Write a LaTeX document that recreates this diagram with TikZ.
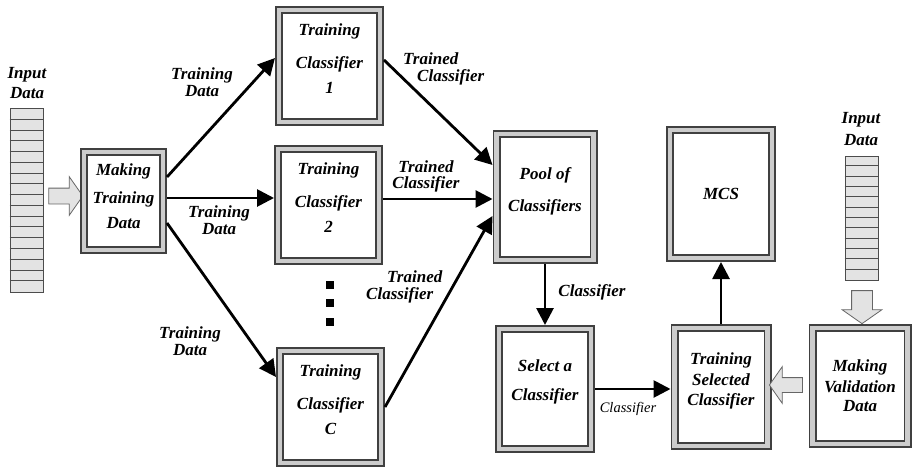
\documentclass[tikz,border=0pt]{standalone}
\usepackage{fontspec}
\setmainfont{Liberation Serif}
\usetikzlibrary{arrows.meta,shapes.arrows}
\newcommand{\lab}{\fontsize{17}{17}\selectfont\bfseries\itshape}
\tikzset{
  frame/.style={draw=black!75, line width=1.6pt, double=gray!40, double distance=4.8pt,
    fill=white, outer sep=4pt, inner sep=2pt, align=center, font=\lab},
  datacol/.style={draw=black!70, line width=1pt, fill=gray!22, inner sep=0pt},
  blockarrow/.style={single arrow, draw=black!60, line width=0.8pt, fill=gray!22,
    inner xsep=0pt, inner ysep=7.5pt, single arrow head extend=11.5pt,
    single arrow tip angle=110},
  lbl/.style={font=\lab, align=center, inner sep=0pt},
  flow/.style={line width=2.8pt, -{Triangle[length=17pt,width=17pt]}}
}
\begin{document}
\begin{tikzpicture}[x=1pt,y=-1pt]
\useasboundingbox (0,0) rectangle (912,468);
\node[datacol, minimum width=33pt, minimum height=183pt] (inL) at (26.5,200.5) {};
\foreach \i in {1,...,16}
  \draw[black!70, line width=0.8pt] ([yshift={-\i*10.76pt}]inL.north west) -- ([yshift={-\i*10.76pt}]inL.north east);
\node[lbl] (inLt) at (27,83) {Input\\[3pt]Data};
\node[blockarrow, minimum height=34pt] (arrL) at (63,196) {};
\node[frame, minimum width=79pt, minimum height=98pt] (make) at (123.5,201) {Making\\[11pt]Training\\[8pt]Data\\[-7pt]\mbox{}};
\node[frame, minimum width=101pt, minimum height=112pt] (tc1) at (329.5,66) {Training\\[16pt]Classifier\\[8pt]1\\[-3pt]\mbox{}};
\node[frame, minimum width=101pt, minimum height=112pt] (tc2) at (328.5,205) {Training\\[16pt]Classifier\\[8pt]2\\[-3pt]\mbox{}};
\node[frame, minimum width=101pt, minimum height=112pt] (tcC) at (330.5,407) {Training\\[16pt]Classifier\\[8pt]C\\[-3pt]\mbox{}};
\foreach \y in {285,303,322}
  \node[fill=black, minimum size=8pt, inner sep=0pt] at (330,\y) {};
\node[frame, minimum width=97pt, minimum height=126pt] (pool) at (545,197) {Pool of\\[15pt]Classifiers\\[-3pt]\mbox{}};
\node[frame, minimum width=92pt, minimum height=120pt] (select) at (545,389) {Select a\\[12pt]Classifier\\[1pt]\mbox{}};
\node[frame, minimum width=102pt, minimum height=128pt] (mcs) at (721,194) {MCS};
\node[frame, minimum width=93pt, minimum height=118pt] (tsel) at (721,387) {Training\\[4pt]Selected\\[3pt]Classifier\\[-1pt]\mbox{}};
\node[frame, minimum width=95pt, minimum height=116pt] (mval) at (860,386) {Making\\[4pt]Validation\\[2pt]Data};
\node[datacol, minimum width=33pt, minimum height=124pt] (inR) at (861.5,218) {};
\foreach \i in {1,...,11}
  \draw[black!70, line width=0.8pt] ([yshift={-\i*10.33pt}]inR.north west) -- ([yshift={-\i*10.33pt}]inR.north east);
\node[lbl] (inRt) at (861,129) {Input\\[5pt]Data};
\node[blockarrow, minimum height=33pt, inner ysep=10pt, single arrow head extend=9.5pt, rotate=-90] (arrD) at (862,303.5) {};
\node[blockarrow, minimum height=33pt, inner ysep=7pt, single arrow head extend=11pt, rotate=180] (arrV) at (788.5,385) {};
\draw[flow] ([yshift=24pt]make.east) -- ([yshift=8pt]tc1.west);
\draw[flow] ([yshift=3pt]make.east) -- ([yshift=7pt]tc2.west);
\draw[flow] ([yshift=-22pt]make.east) -- ([yshift=30pt]tcC.west);
\draw[flow] ([yshift=6pt]tc1.east) -- ([yshift=32pt]pool.west);
\draw[flow] ([yshift=6pt]tc2.east) -- ([yshift=-2pt]pool.west);
\draw[flow] (tcC.east) -- ([yshift=-19pt]pool.west);
\draw[flow] (pool.south) -- (select.north);
\draw[flow] (select.east) -- (tsel.west |- select.east);
\draw[flow] (tsel.north) -- (mcs.south);
\node[lbl] (tdA) at (202,82) {Training\\Data};
\node[lbl] (tdB) at (219,220) {Training\\Data};
\node[lbl] (tdC) at (190,341) {Training\\Data};
\node[lbl, anchor=west, align=left] (trA) at (403,69) {Trained\\\hspace*{14pt}Classifier};
\node[lbl] (trB) at (426,176) {Trained\\[-1pt]Classifier};
\node[lbl, anchor=west, align=left] (trC) at (366,287) {\hspace*{21pt}Trained\\Classifier};
\node[lbl] (clA) at (592,292) {Classifier};
\node[lbl, font=\fontsize{14.5}{15}\selectfont\itshape] (clB) at (628,409) {Classifier};
\end{tikzpicture}
\end{document}
